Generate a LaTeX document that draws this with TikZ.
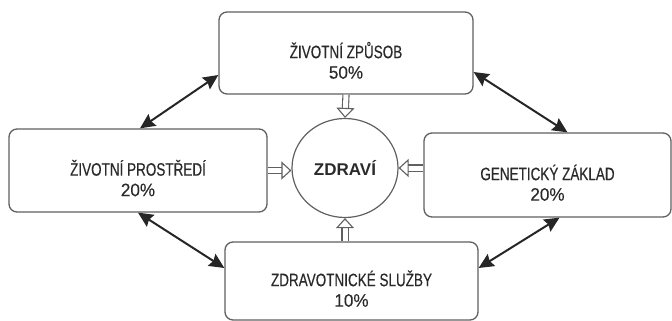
\documentclass[tikz,border=0pt]{standalone}
\usepackage{fontspec}
\setmainfont{Liberation Sans}
\newfontfamily\narrowfont[FakeStretch=0.75,FakeBold=0.4]{Liberation Sans}
\newfontfamily\sharefont[FakeStretch=0.95,FakeBold=0.3]{Liberation Sans}
\usetikzlibrary{arrows.meta,shapes.geometric}
\definecolor{boxline}{HTML}{606060}
\definecolor{ink}{HTML}{2A2A2A}
\newcommand{\factortext}[2]{\rule{0pt}{31pt}#1\\{\sharefont #2}}

\begin{document}
\begin{tikzpicture}[x=1pt,y=-1pt]
\useasboundingbox (0,0) rectangle (672,321);
\tikzset{FactorStyle/.style={draw=boxline,line width=1.3pt,rounded corners=8pt,text=ink,align=center,
  font=\narrowfont\fontsize{18}{20.5}\selectfont,inner sep=0pt}}
\tikzset{HealthStyle/.style={ellipse,draw=boxline,line width=1.2pt,minimum width=106pt,minimum height=99pt,
  text=ink,font=\bfseries\fontsize{17}{20}\selectfont}}
\tikzset{LinkStyle/.style={draw=black!85,line width=2pt,
  {Stealth[length=15pt,width=14pt,inset=2pt]}-{Stealth[length=15pt,width=14pt,inset=2pt]}}}
\tikzset{InfluenceStyle/.style={draw=boxline,line width=1.1pt,double,double distance=5pt,
  -{Triangle[open,length=10pt,width=18pt]}}}

\node[HealthStyle] (zdravi) at (345,168) {ZDRAVÍ};
\node[FactorStyle,minimum width=254pt,minimum height=82pt] (zpusob) at (346,53) {\factortext{ŽIVOTNÍ ZPŮSOB}{50\%}};
\node[FactorStyle,minimum width=258pt,minimum height=83pt] (prostredi) at (138,170.5) {\factortext{ŽIVOTNÍ PROSTŘEDÍ}{20\%}};
\node[FactorStyle,minimum width=247pt,minimum height=84pt] (genetika) at (547.5,175) {\factortext{GENETICKÝ ZÁKLAD}{20\%}};
\node[FactorStyle,minimum width=253pt,minimum height=78pt] (sluzby) at (351.5,281) {\factortext{ZDRAVOTNICKÉ SLUŽBY}{10\%}};

\draw[LinkStyle] ([yshift=-22pt]zpusob.west) -- ([xshift=2pt]prostredi.north);
\draw[LinkStyle] ([yshift=-19pt]zpusob.east) -- ([xshift=20pt]genetika.north);
\draw[LinkStyle] (prostredi.south) -- ([yshift=13pt]sluzby.west);
\draw[LinkStyle] ([xshift=12pt]genetika.south) -- ([yshift=13pt]sluzby.east);

\draw[InfluenceStyle] (zpusob.south) -- (zdravi.north);
\draw[InfluenceStyle] (prostredi.east) -- (prostredi.east -| zdravi.west);
\draw[InfluenceStyle] (genetika.west |- zdravi.east) -- (zdravi.east);
\draw[InfluenceStyle] (sluzby.north -| zdravi.south) -- (zdravi.south);
\end{tikzpicture}
\end{document}
